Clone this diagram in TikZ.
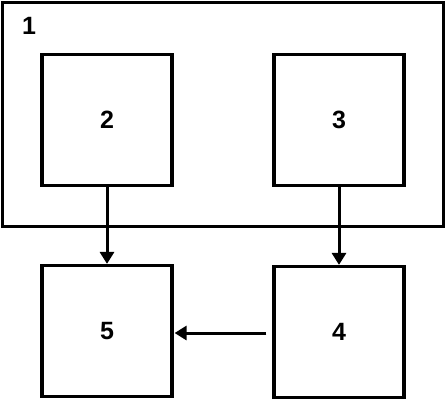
\documentclass[tikz,border=0pt]{standalone}
\usepackage{fontspec}
\setmainfont{Liberation Sans}
\usetikzlibrary{arrows.meta}
\begin{document}
\begin{tikzpicture}[x=1pt,y=-1pt,
  blk/.style={draw,line width=3.2pt,minimum width=130pt,minimum height=131pt,inner sep=0pt,font=\fontsize{25}{30}\selectfont\bfseries},
  arr/.style={line width=3pt,-{Triangle[length=12pt,width=14pt]}}]
\useasboundingbox (0,0) rectangle (446,400);
\node[draw,line width=3.2pt,minimum width=441pt,minimum height=224pt,inner sep=0pt] (one) at (223,114.5) {};
\node[font=\fontsize{25}{30}\selectfont\bfseries] (l1) at (29,26) {1};
\node[blk] (b2) at (107,120) {2};
\node[blk] (b3) at (339,120) {3};
\node[blk] (b5) at (107,331) {5};
\node[blk] (b4) at (339,332) {4};
\coordinate (s4) at ([xshift=-6pt,yshift=-1pt]b4.west);
\coordinate (e5) at ([xshift=1pt]b5.east |- s4);
\draw[arr] (b2.south) -- (b5.north);
\draw[arr] (b3.south) -- (b4.north);
\draw[arr] (s4) -- (e5);
\end{tikzpicture}
\end{document}
